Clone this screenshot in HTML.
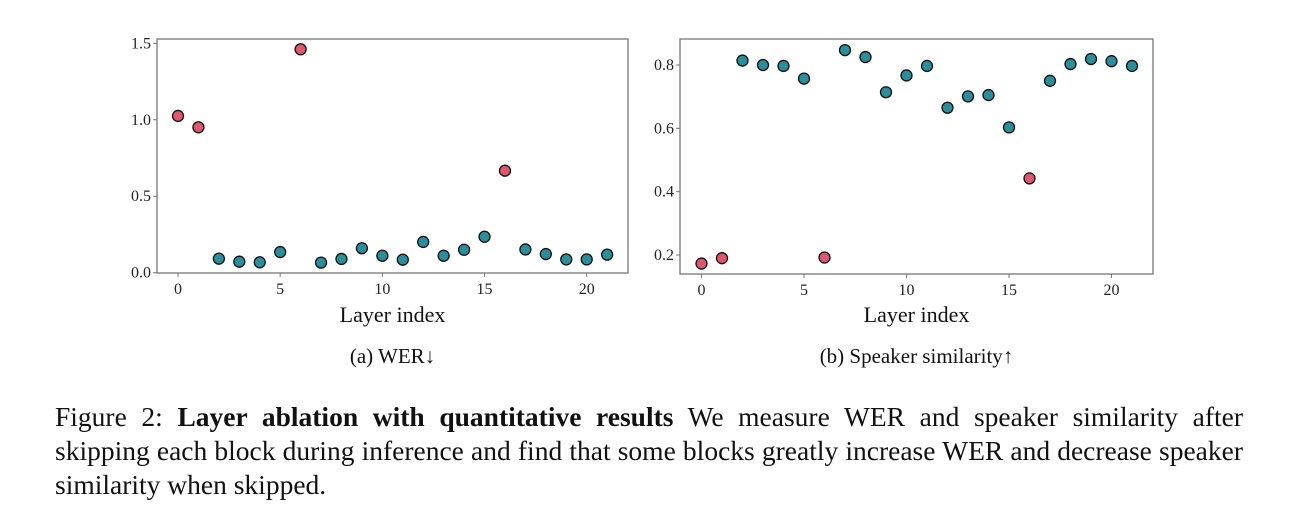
<!DOCTYPE html>
<html><head><meta charset="utf-8"><style>
body{margin:0;width:1297px;height:532px;background:#fff;overflow:hidden;font-family:"Liberation Serif",serif;}
svg{position:absolute;left:0;top:0}
.cap{position:absolute;left:55px;top:400px;width:1188px;font-size:27.5px;line-height:34px;color:#111;text-align:justify;}
</style></head><body>
<svg width="1297" height="532" id="fig" font-family="Liberation Serif, serif"></svg>
<div class="cap">Figure 2: <b>Layer ablation with quantitative results</b> We measure WER and speaker similarity after skipping each block during inference and find that some blocks greatly increase WER and decrease speaker similarity when skipped.</div>
<script>
const layers=[0,1,2,3,4,5,6,7,8,9,10,11,12,13,14,15,16,17,18,19,20,21];
const werValues=[1.025,0.951,0.092,0.072,0.068,0.135,1.461,0.066,0.090,0.160,0.111,0.085,0.201,0.111,0.150,0.235,0.667,0.152,0.122,0.087,0.087,0.118];
const simValues=[0.173,0.190,0.814,0.800,0.797,0.757,0.192,0.847,0.825,0.714,0.767,0.797,0.665,0.701,0.705,0.603,0.442,0.750,0.803,0.819,0.812,0.797];
const highlighted=[0,1,6,16];
const xTicks=[0,5,10,15,20];
const werYTicks=[0.0,0.5,1.0,1.5];
const simYTicks=[0.2,0.4,0.6,0.8];
const NS="http://www.w3.org/2000/svg";
const svg=document.getElementById('fig');
function mk(tag,attrs,parent){const e=document.createElementNS(NS,tag);for(const k in attrs)e.setAttribute(k,attrs[k]);(parent||svg).appendChild(e);return e;}
function panel(cfg){
  const g=mk('g',{});
  
  
  const sx=v=>cfg.x0+(v-cfg.xmin)*(cfg.x1-cfg.x0)/(cfg.xmax-cfg.xmin);
  const sy=v=>cfg.py0+(v-cfg.ymin)*(cfg.py1-cfg.py0)/(cfg.ymax-cfg.ymin);
  const fr=mk('rect',{x:cfg.left,y:cfg.top,width:cfg.right-cfg.left,height:cfg.bottom-cfg.top,fill:'none',stroke:'#777','stroke-width':1.3},g);
  
  
  xTicks.forEach(t=>{
    const x=sx(t);
    mk('line',{x1:x,x2:x,y1:cfg.bottom,y2:cfg.bottom+4,stroke:'#777'},g);
    const tx=mk('text',{x:x,y:cfg.bottom+21,'text-anchor':'middle','font-size':16,fill:'#222'},g);
    tx.textContent=t;
    
    
  });
  cfg.yticks.forEach(t=>{
    const y=sy(t);
    mk('line',{x1:cfg.left-4,x2:cfg.left,y1:y,y2:y,stroke:'#777'},g);
    const tx=mk('text',{x:cfg.left-6,y:y+5,'text-anchor':'end','font-size':16,fill:'#222'},g);
    tx.textContent=t.toFixed(1);
    
    
  });
  cfg.values.forEach((v,i)=>{
    const c=mk('circle',{cx:sx(layers[i]),cy:sy(v),r:5.5,fill:highlighted.includes(layers[i])?'#e0566f':'#2a8f9b',stroke:'#111','stroke-width':1.3},g);
    
    
  });
  const xl=mk('text',{x:(cfg.left+cfg.right)/2,y:322,'text-anchor':'middle','font-size':22,fill:'#111'},g);
  xl.textContent='Layer index';
  
  
  const st=mk('text',{x:(cfg.left+cfg.right)/2,y:363,'text-anchor':'middle','font-size':21,fill:'#111'},g);
  st.textContent=cfg.caption;
  
  
}
panel({name:'wer-chart',values:werValues,yticks:werYTicks,left:157,right:628,top:39,bottom:273,x0:178,x1:586.7,xmin:0,xmax:20,ymin:0,ymax:1.5,py0:272.7,py1:43.3,caption:'(a) WER\u2193'});
panel({name:'speaker-similarity-chart',values:simValues,yticks:simYTicks,left:680,right:1153,top:39,bottom:274,x0:701.5,x1:1111.5,xmin:0,xmax:20,ymin:0.2,ymax:0.8,py0:255,py1:65,caption:'(b) Speaker similarity\u2191'});
</script>
</body></html>
